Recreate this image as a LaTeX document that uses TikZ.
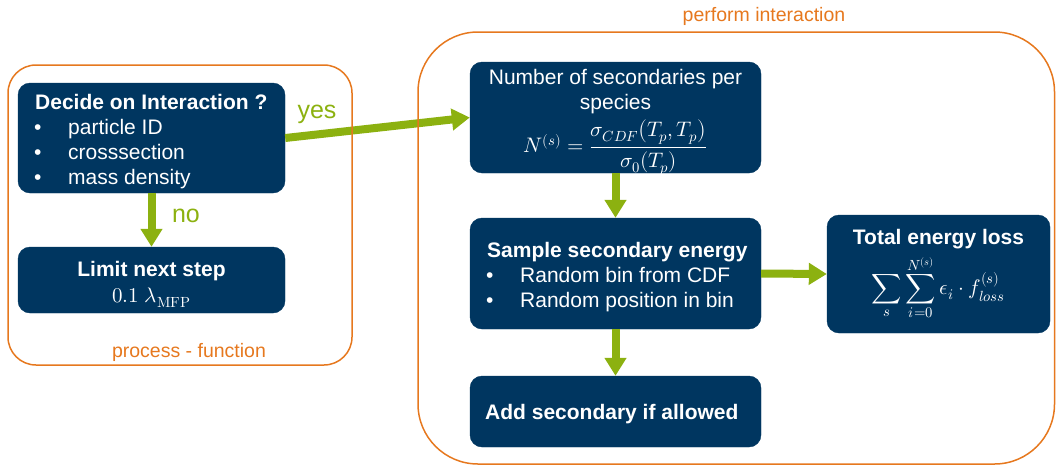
\documentclass[tikz,border=0pt]{standalone}
\usepackage{amsmath}
\usepackage{fontspec}
\usepackage{unicode-math}
\setmainfont{Liberation Sans}
\setmathfont{Latin Modern Math}
\usetikzlibrary{arrows.meta}
\definecolor{navy}{RGB}{0,54,96}
\definecolor{lgreen}{RGB}{140,177,16}
\definecolor{orng}{RGB}{230,120,30}
\tikzset{
  box/.style={fill=navy, draw=navy, rounded corners=12pt, inner sep=0pt},
  txt/.style={text=white, inner sep=0pt, font=\fontsize{21}{25}\selectfont},
  flow/.style={draw=lgreen, line width=8pt, -{Triangle[width=21pt,length=18pt]}},
  frame/.style={draw=orng, line width=1.5pt},
  flabel/.style={text=lgreen, font=\fontsize{25}{28}\selectfont},
  olabel/.style={text=orng, font=\fontsize{19.5}{22}\selectfont},
}
\newcommand{\bul}[1]{\hspace*{-1pt}\makebox[34pt][l]{\textbullet}#1}
\begin{document}
\begin{tikzpicture}[x=1pt,y=-1pt]
\useasboundingbox (0,0) rectangle (1056,466);
% boxes
\node[box, minimum width=267pt, minimum height=110pt] (decide) at (151.5,138) {};
\node[box, minimum width=267pt, minimum height=66pt] (limit) at (151.5,280) {};
\node[box, minimum width=291pt, minimum height=111pt] (number) at (615.5,117.5) {};
\node[box, minimum width=291pt, minimum height=111pt] (sample) at (615.5,273.5) {};
\node[box, minimum width=291pt, minimum height=71pt] (add) at (615.5,411.5) {};
\node[box, minimum width=223pt, minimum height=118pt] (total) at (938.5,274) {};
% texts
\node[txt, anchor=north west, align=left] (decidetxt) at (35,94)
  {\textbf{Decide on Interaction ?}\\ \bul{particle ID}\\ \bul{crosssection}\\ \bul{mass density}};
\node[txt, anchor=north, align=center] (limittxt) at (151.5,261)
  {\textbf{Limit next step}\\[1pt] $0.1\ \lambda_{\symup{MFP}}$};
\node[txt, anchor=north, align=center] (numbertxt) at (615.5,69)
  {Number of secondaries per\\ species\\[4pt] $\displaystyle N^{(s)}=\frac{\sigma_{CDF}\bigl(T_p,T_p\bigr)}{\sigma_0(T_p)}$};
\node[txt, anchor=north west, align=left] (sampletxt) at (487,242)
  {\textbf{Sample secondary energy}\\ \bul{Random bin from CDF}\\ \bul{Random position in bin}};
\node[txt, anchor=north west, align=left] (addtxt) at (485,404)
  {\textbf{Add secondary if allowed}};
\node[txt, anchor=north, align=center] (totaltxt) at (938.5,229)
  {\textbf{Total energy loss}\\[5pt] $\displaystyle \sum_{s}\sum_{i=0}^{N^{(s)}}\epsilon_i\cdot f_{loss}^{(s)}$};
% connectors
\draw[flow] (decide.east) -- (number.west);
\draw[flow] (decide.south) -- (limit.north);
\draw[flow] (number.south) -- (sample.north);
\draw[flow] (sample.south) -- (add.north);
\draw[flow] (sample.east) -- (total.west);
\node[flabel] (yes) at (317,114) {yes};
\node[flabel] (no) at (186,216) {no};
% frames
\draw[frame, rounded corners=28pt] (8,65) rectangle (352,365);
\draw[frame, rounded corners=60pt] (418,32) rectangle (1054.5,464);
\node[olabel] (proc) at (189,352) {process - function};
\node[olabel] (perf) at (764,16) {perform interaction};
\end{tikzpicture}
\end{document}
